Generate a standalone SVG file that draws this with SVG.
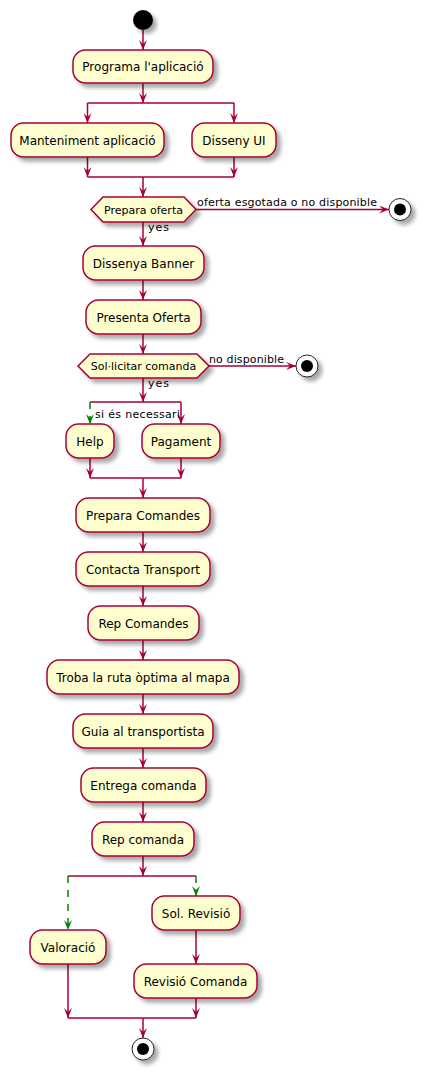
<svg xmlns="http://www.w3.org/2000/svg" width="427" height="1076" viewBox="0 0 427 1076">
<defs>
<filter id="sh" x="-20%" y="-20%" width="150%" height="160%">
<feGaussianBlur in="SourceAlpha" stdDeviation="2"/>
<feOffset dx="4" dy="4" result="b"/>
<feComponentTransfer><feFuncA type="linear" slope="0.35"/></feComponentTransfer>
<feMerge><feMergeNode/><feMergeNode in="SourceGraphic"/></feMerge>
</filter>
<marker id="ar" viewBox="0 0 10 8" refX="10" refY="4" markerWidth="10" markerHeight="8" orient="auto" markerUnits="userSpaceOnUse">
<path d="M0,0 L10,4 L0,8 L4,4 Z" fill="#A80036"/>
</marker>
<marker id="ag" viewBox="0 0 10 8" refX="10" refY="4" markerWidth="10" markerHeight="8" orient="auto" markerUnits="userSpaceOnUse">
<path d="M0,0 L10,4 L0,8 L4,4 Z" fill="#008000"/>
</marker>
</defs>
<style>
.act{fill:#FEFECE;stroke:#A80036;stroke-width:1.5;filter:url(#sh)}
.t{font-family:"DejaVu Sans",sans-serif;font-size:12px;fill:#000;text-anchor:middle}
.ts{font-family:"DejaVu Sans",sans-serif;font-size:11px;fill:#000}
.c{stroke:#A80036;stroke-width:1.5;fill:none}
.ca{stroke:#A80036;stroke-width:1.5;fill:none;marker-end:url(#ar)}
.cg{stroke:#008000;stroke-width:1.5;fill:none;stroke-dasharray:7,7;marker-end:url(#ag)}
.stop{fill:#fff;stroke:#222;stroke-width:1}
</style>
<g id="connectors">
<line class="ca" x1="143" y1="30" x2="143" y2="50"/>
<line class="ca" x1="143" y1="83" x2="143" y2="103"/>
<line class="c" x1="87.5" y1="103" x2="234" y2="103"/>
<line class="ca" x1="87.5" y1="103" x2="87.5" y2="123"/>
<line class="ca" x1="234" y1="103" x2="234" y2="123"/>
<line class="ca" x1="87.5" y1="157" x2="87.5" y2="177"/>
<line class="ca" x1="234" y1="157" x2="234" y2="177"/>
<line class="c" x1="87.5" y1="177" x2="234" y2="177"/>
<line class="ca" x1="143" y1="177" x2="143" y2="197"/>
<line class="ca" x1="196" y1="209.5" x2="389" y2="209.5"/>
<line class="ca" x1="143" y1="222" x2="143" y2="246"/>
<line class="ca" x1="143" y1="280" x2="143" y2="300"/>
<line class="ca" x1="143" y1="334" x2="143" y2="354"/>
<line class="ca" x1="209" y1="366" x2="296" y2="366"/>
<line class="ca" x1="143" y1="378" x2="143" y2="402"/>
<line class="c" x1="90" y1="402" x2="181" y2="402"/>
<line class="cg" x1="90" y1="402" x2="90" y2="424"/>
<line class="ca" x1="181" y1="402" x2="181" y2="424"/>
<line class="ca" x1="90" y1="458" x2="90" y2="478"/>
<line class="ca" x1="181" y1="458" x2="181" y2="478"/>
<line class="c" x1="90" y1="478" x2="181" y2="478"/>
<line class="ca" x1="143" y1="478" x2="143" y2="498"/>
<line class="ca" x1="143" y1="532" x2="143" y2="552"/>
<line class="ca" x1="143" y1="586" x2="143" y2="606"/>
<line class="ca" x1="143" y1="640" x2="143" y2="660"/>
<line class="ca" x1="143" y1="694" x2="143" y2="714"/>
<line class="ca" x1="143" y1="748" x2="143" y2="768"/>
<line class="ca" x1="143" y1="802" x2="143" y2="822"/>
<line class="ca" x1="143" y1="856" x2="143" y2="876"/>
<line class="c" x1="68" y1="876" x2="196" y2="876"/>
<line class="cg" x1="68" y1="876" x2="68" y2="930"/>
<line class="cg" x1="196" y1="876" x2="196" y2="896"/>
<line class="ca" x1="196" y1="930" x2="196" y2="964"/>
<line class="ca" x1="68" y1="964" x2="68" y2="1018"/>
<line class="ca" x1="196" y1="998" x2="196" y2="1018"/>
<line class="c" x1="68" y1="1018" x2="196" y2="1018"/>
<line class="ca" x1="143" y1="1018" x2="143" y2="1038"/>
<text class="ts" x="197" y="206" textLength="180" lengthAdjust="spacing">oferta esgotada o no disponible</text>
<text class="ts" x="148" y="231" textLength="21" lengthAdjust="spacing">yes</text>
<text class="ts" x="209" y="363" textLength="75" lengthAdjust="spacing">no disponible</text>
<text class="ts" x="148" y="387" textLength="21" lengthAdjust="spacing">yes</text>
<text class="ts" x="95" y="418" textLength="85" lengthAdjust="spacing">si és necessari</text>
</g>
<g id="start"><circle cx="143" cy="20" r="10" fill="#000" filter="url(#sh)"/></g>
<g id="n1"><rect class="act" x="73" y="50" width="140" height="33" rx="12.5"/><text class="t" x="143" y="71">Programa l'aplicació</text></g>
<g id="n2"><rect class="act" x="11" y="123" width="153" height="34" rx="12.5"/><text class="t" x="87.5" y="144.5">Manteniment aplicació</text></g>
<g id="n3"><rect class="act" x="192" y="123" width="84" height="34" rx="12.5"/><text class="t" x="234" y="144.5">Disseny UI</text></g>
<g id="d1"><polygon class="act" points="91,209.5 103,197 184,197 196,209.5 184,222 103,222"/><text class="t" style="font-size:11px" x="143.5" y="213.5">Prepara oferta</text></g>
<g id="stop1"><circle class="stop" cx="400" cy="209.5" r="11" filter="url(#sh)"/><circle cx="400" cy="209.5" r="6" fill="#000"/></g>
<g id="n4"><rect class="act" x="83" y="246" width="121" height="34" rx="12.5"/><text class="t" x="143.5" y="267.5">Dissenya Banner</text></g>
<g id="n5"><rect class="act" x="86" y="300" width="115" height="34" rx="12.5"/><text class="t" x="143.5" y="321.5">Presenta Oferta</text></g>
<g id="d2"><polygon class="act" points="78,366 90,354 197,354 209,366 197,378 90,378"/><text class="t" style="font-size:11px" x="143.5" y="370">Sol·licitar comanda</text></g>
<g id="stop2"><circle class="stop" cx="307" cy="366" r="11" filter="url(#sh)"/><circle cx="307" cy="366" r="6" fill="#000"/></g>
<g id="n6"><rect class="act" x="66" y="424" width="48" height="34" rx="12.5"/><text class="t" x="90" y="445.5">Help</text></g>
<g id="n7"><rect class="act" x="142" y="424" width="78" height="34" rx="12.5"/><text class="t" x="181" y="445.5">Pagament</text></g>
<g id="n8"><rect class="act" x="76" y="498" width="134" height="34" rx="12.5"/><text class="t" x="143" y="519.5">Prepara Comandes</text></g>
<g id="n9"><rect class="act" x="76" y="552" width="134" height="34" rx="12.5"/><text class="t" x="143" y="573.5">Contacta Transport</text></g>
<g id="n10"><rect class="act" x="88" y="606" width="111" height="34" rx="12.5"/><text class="t" x="143.5" y="627.5">Rep Comandes</text></g>
<g id="n11"><rect class="act" x="47" y="660" width="192" height="34" rx="12.5"/><text class="t" x="143" y="681.5">Troba la ruta òptima al mapa</text></g>
<g id="n12"><rect class="act" x="73" y="714" width="140" height="34" rx="12.5"/><text class="t" x="143" y="735.5">Guia al transportista</text></g>
<g id="n13"><rect class="act" x="81" y="768" width="125" height="34" rx="12.5"/><text class="t" x="143.5" y="789.5">Entrega comanda</text></g>
<g id="n14"><rect class="act" x="92" y="822" width="102" height="34" rx="12.5"/><text class="t" x="143" y="843.5">Rep comanda</text></g>
<g id="n15"><rect class="act" x="30" y="930" width="76" height="34" rx="12.5"/><text class="t" x="68" y="951.5">Valoració</text></g>
<g id="n16"><rect class="act" x="152" y="896" width="88" height="34" rx="12.5"/><text class="t" x="196" y="917.5">Sol. Revisió</text></g>
<g id="n17"><rect class="act" x="134" y="964" width="123" height="34" rx="12.5"/><text class="t" x="195.5" y="985.5">Revisió Comanda</text></g>
<g id="end"><circle class="stop" cx="143" cy="1049" r="11" filter="url(#sh)"/><circle cx="143" cy="1049" r="6" fill="#000"/></g>
</svg>
